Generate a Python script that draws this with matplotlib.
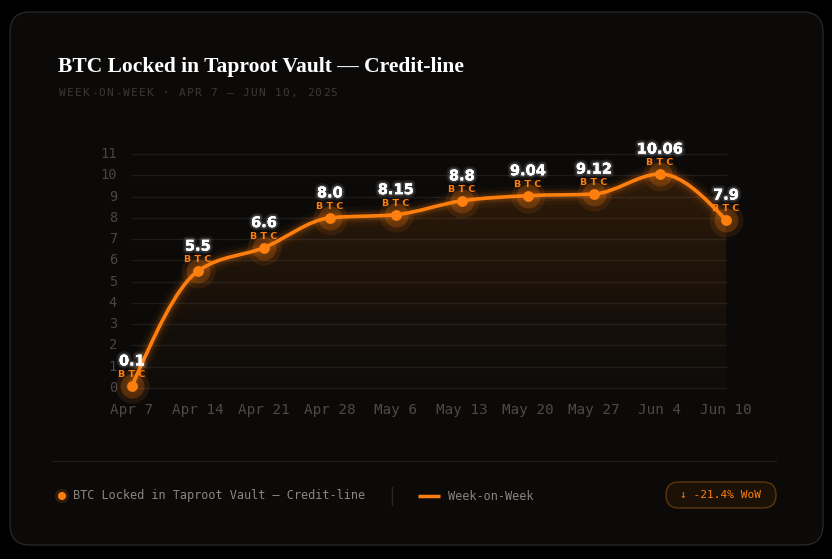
import numpy as np
import matplotlib.pyplot as plt
from matplotlib.patches import FancyBboxPatch, PathPatch, Circle
from matplotlib.path import Path
import matplotlib.patheffects as pe

# data
weeks = ['Apr 7', 'Apr 14', 'Apr 21', 'Apr 28', 'May 6', 'May 13', 'May 20', 'May 27', 'Jun 4', 'Jun 10']
btc = [0.1, 5.5, 6.6, 8.0, 8.15, 8.8, 9.04, 9.12, 10.06, 7.9]
value_labels = ['0.1', '5.5', '6.6', '8.0', '8.15', '8.8', '9.04', '9.12', '10.06', '7.9']
y_ticks = list(range(0, 12))

ORANGE = '#ff7f0e'
W, H = 832, 559
MONO = 'DejaVu Sans Mono'

fig = plt.figure(figsize=(W / 100, H / 100), dpi=100, facecolor='black')

# background / card in pixel coordinates
bg = fig.add_axes([0, 0, 1, 1])
bg.set_xlim(0, W)
bg.set_ylim(H, 0)
bg.axis('off')
bg.set_facecolor('black')
card = FancyBboxPatch((10, 12), 813, 533, boxstyle='round,pad=0,rounding_size=20',
                      fc='#0b0a09', ec='#262626', lw=1)
bg.add_patch(card)

bg.text(58, 67, 'BTC Locked in Taproot Vault \u2014 Credit-line', color='white',
        fontsize=15.5, fontweight='bold', family='Liberation Serif', va='center', ha='left')

# letter-spaced subtitle, one character at a time
subtitle = 'WEEK-ON-WEEK \u00b7 APR 7 \u2013 JUN 10, 2025'
step = (338 - 58) / len(subtitle)
for k, ch in enumerate(subtitle):
    bg.text(58 + k * step + step / 2, 93, ch, color='#3a3938', fontsize=8, family=MONO,
            va='center', ha='center')

# legend row
bg.plot([52, 776], [461, 461], color='#1f1d1b', lw=1)
bg.add_patch(Circle((62, 496), 7, fc=ORANGE, alpha=0.15, ec='none'))
bg.add_patch(Circle((62, 496), 4, fc=ORANGE, ec='none'))
bg.text(73, 496, 'BTC Locked in Taproot Vault \u2014 Credit-line', color='#8a8580',
        fontsize=8.6, family=MONO, va='center', ha='left')
bg.plot([392, 392], [487, 505], color='#2a2826', lw=1)
bg.plot([418, 440], [496, 496], color=ORANGE, lw=2.5, solid_capstyle='butt')
bg.text(448, 496, 'Week-on-Week', color='#8a8580', fontsize=8.6, family=MONO,
        va='center', ha='left')
badge = FancyBboxPatch((666, 482), 110, 26, boxstyle='round,pad=0,rounding_size=13',
                       fc='#1c1107', ec='#5c3709', lw=1)
bg.add_patch(badge)
bg.text(721, 495.5, '\u2193 -21.4% WoW', color=ORANGE, fontsize=8,
        family=MONO, va='center', ha='center')

# data axes: x 0..9 -> px 132..726, y 0..11 -> px 388..154
x = np.arange(len(btc))
ppx = (726 - 132) / 9
ppy = (388 - 154) / 11
x0, x1 = -0.2, 9.2
y0, y1 = -0.3, 11.3
left = 132 + x0 * ppx
right = 132 + x1 * ppx
top = 154 - (y1 - 11) * ppy
bottom = 388 - y0 * ppy
ax = fig.add_axes([left / W, 1 - bottom / H, (right - left) / W, (bottom - top) / H])
ax.set_xlim(x0, x1)
ax.set_ylim(y0, y1)
ax.axis('off')

for t in y_ticks:
    ax.plot([0, 9], [t, t], color='#1d1c1b', lw=1, zorder=1)
    ax.annotate(str(t), (0, t), xytext=(-15, 0), textcoords='offset pixels',
                ha='right', va='center', color='#484644', fontsize=9.8, family=MONO,
                annotation_clip=False)
for i, lab in enumerate(weeks):
    ax.annotate(lab, (i, 0), xytext=(0, -22), textcoords='offset pixels',
                ha='center', va='center', color='#4d4a47', fontsize=10.3, family=MONO,
                annotation_clip=False)

# monotone cubic (d3 curveMonotoneX style) bezier path through the points
yv = np.array(btc, dtype=float)
n = len(yv)
h = np.diff(x).astype(float)
s = np.diff(yv) / h
t = np.zeros(n)
for i in range(1, n - 1):
    if s[i - 1] * s[i] <= 0:
        t[i] = 0
    else:
        p = (s[i - 1] * h[i] + s[i] * h[i - 1]) / (h[i - 1] + h[i])
        t[i] = np.sign(s[i - 1]) * min(abs(s[i - 1]), abs(s[i]), 0.5 * abs(p)) * 2
t[0] = (3 * s[0] - t[1]) / 2
t[-1] = (3 * s[-1] - t[-2]) / 2
verts = [(x[0], yv[0])]
codes = [Path.MOVETO]
for i in range(n - 1):
    dx = h[i] / 3
    verts += [(x[i] + dx, yv[i] + dx * t[i]), (x[i + 1] - dx, yv[i + 1] - dx * t[i + 1]),
              (x[i + 1], yv[i + 1])]
    codes += [Path.CURVE4] * 3
line_path = Path(verts, codes)

area_verts = verts + [(x[-1], 0), (x[0], 0), (x[0], yv[0])]
area_codes = codes + [Path.LINETO, Path.LINETO, Path.CLOSEPOLY]
area_path = Path(area_verts, area_codes)

g = np.linspace(0, 1, 256)
rgba = np.zeros((256, 1, 4))
rgba[:, 0, 0] = 1.0
rgba[:, 0, 1] = 0.5
rgba[:, 0, 2] = 0.05
rgba[:, 0, 3] = 0.02 + 0.13 * g ** 1.3
im = ax.imshow(rgba, extent=[0, 9, 0, 10.1], origin='lower', aspect='auto', zorder=2)
clip = PathPatch(area_path, transform=ax.transData, fc='none', ec='none')
ax.add_patch(clip)
im.set_clip_path(clip)

# glow layers then main line
for lw, a in [(14, 0.04), (9, 0.07), (6, 0.12)]:
    ax.add_patch(PathPatch(line_path, fc='none', ec=ORANGE, lw=lw, alpha=a,
                           zorder=3, capstyle='round', joinstyle='round'))
ax.add_patch(PathPatch(line_path, fc='none', ec=ORANGE, lw=2.6, zorder=4,
                       capstyle='round', clip_on=False))

ax.scatter(x, yv, s=600, color=ORANGE, alpha=0.10, lw=0, zorder=5, clip_on=False)
ax.scatter(x, yv, s=300, color=ORANGE, alpha=0.22, lw=0, zorder=5, clip_on=False)
ax.scatter(x, yv, s=60, color=ORANGE, lw=0, zorder=6, clip_on=False)

glow = [pe.withStroke(linewidth=5, foreground=(1, 1, 1, 0.07)),
        pe.withStroke(linewidth=2.5, foreground=(1, 1, 1, 0.15))]
for i, (v, lab) in enumerate(zip(yv, value_labels)):
    ax.annotate(lab, (i, v), xytext=(0, 25), textcoords='offset pixels', ha='center',
                va='center', color='white', fontsize=10.5, fontweight='bold',
                family='DejaVu Sans', zorder=8, path_effects=glow, annotation_clip=False)
    ax.annotate('B T C', (i, v), xytext=(0, 11), textcoords='offset pixels', ha='center',
                va='center', color=ORANGE, fontsize=6.8, fontweight='bold',
                family='DejaVu Sans', zorder=8, annotation_clip=False)

fig.savefig('out.png', dpi=100, facecolor='black')
